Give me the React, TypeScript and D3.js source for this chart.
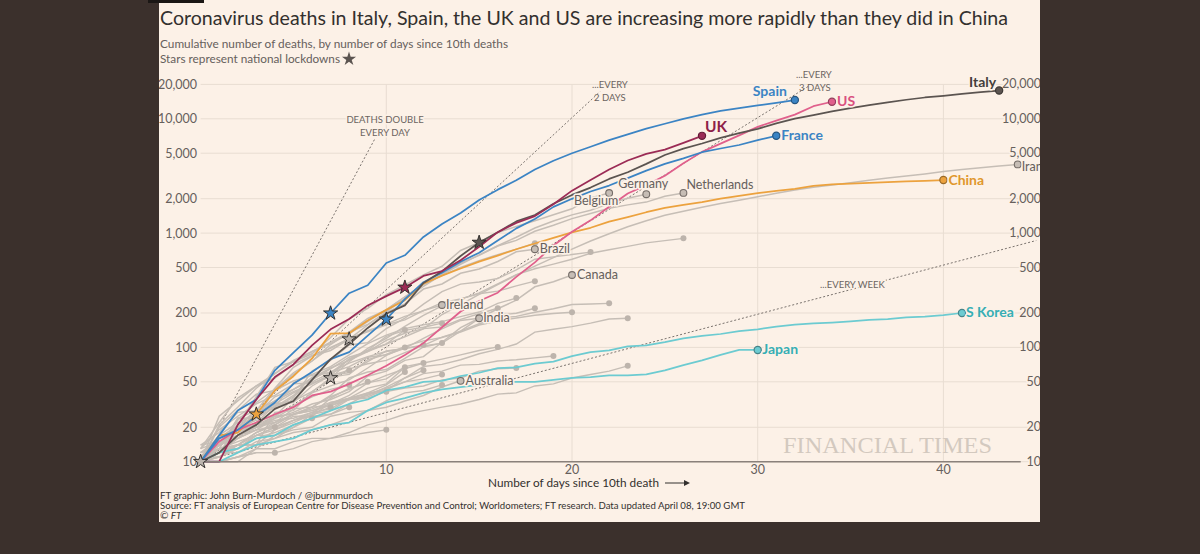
import React from "react";
import * as d3 from "d3";

const BG = "#fcf1e7";
const OUTER = "#3b302c";
const INK = "#33302e";
const MUTED = "#66605c";
const FONT = "Lato, 'Open Sans', sans-serif";

// ---------- axis ticks ----------
const yTicks = [10, 20, 50, 100, 200, 500, 1000, 2000, 5000, 10000, 20000];
const xTicks = [10, 20, 30, 40];

// ---------- highlighted countries: cumulative deaths, day 0 = 10th death ----------
const italy = [10, 12, 17, 21, 29, 34, 52, 79, 107, 148, 197, 233, 366, 463, 631, 827, 1016, 1266, 1441, 1809, 2158, 2503, 2978, 3405, 4032, 4825, 5476, 6077, 6820, 7503, 8165, 9134, 10023, 10779, 11591, 12428, 13155, 13915, 14681, 15362, 15887, 16523, 17127, 17669];
const spain = [10, 17, 28, 35, 63, 90, 128, 199, 298, 350, 548, 640, 925, 1200, 1500, 1950, 2400, 2900, 3600, 4300, 5000, 5700, 6500, 7300, 8200, 9050, 10000, 10900, 11750, 12400, 13100, 13800, 14600];
const france = [10, 16, 19, 25, 33, 48, 61, 79, 91, 127, 176, 264, 372, 450, 562, 674, 860, 1100, 1331, 1696, 1995, 2314, 2606, 3024, 3523, 4032, 4503, 5100, 5500, 5900, 6500, 7100];
const uk = [10, 10, 21, 35, 55, 71, 104, 144, 177, 233, 281, 335, 422, 465, 578, 759, 1019, 1228, 1408, 1789, 2352, 2921, 3605, 4313, 4934, 5373, 6159, 7097];
const us = [10, 15, 19, 22, 26, 30, 38, 41, 48, 57, 69, 86, 109, 150, 206, 255, 301, 414, 555, 780, 1027, 1293, 1698, 2221, 2629, 3170, 4081, 5137, 6070, 7159, 8496, 9647, 10871, 12895, 14100];
const china = [10, 17, 18, 26, 42, 56, 80, 132, 133, 172, 213, 259, 361, 425, 490, 563, 636, 722, 811, 908, 1016, 1113, 1259, 1380, 1523, 1665, 1770, 1868, 2004, 2118, 2236, 2345, 2442, 2592, 2663, 2715, 2744, 2788, 2835, 2870, 2912];
const southKorea = [10, 12, 13, 16, 17, 21, 24, 28, 32, 35, 42, 45, 50, 51, 56, 60, 66, 67, 72, 75, 84, 91, 94, 102, 104, 111, 120, 126, 131, 139, 144, 152, 158, 162, 165, 169, 174, 177, 183, 186, 192, 200];
const japan = [10, 10, 12, 14, 15, 16, 19, 21, 22, 28, 33, 36, 40, 43, 45, 47, 50, 50, 50, 52, 54, 55, 57, 57, 58, 63, 70, 77, 86, 95, 95];

// ---------- labelled grey countries ----------
const iran = [10, 16, 19, 26, 34, 43, 54, 66, 77, 92, 107, 124, 145, 194, 237, 291, 354, 429, 514, 611, 724, 853, 988, 1135, 1284, 1433, 1556, 1685, 1812, 1934, 2077, 2234, 2378, 2517, 2640, 2757, 2898, 3036, 3160, 3294, 3452, 3603, 3739, 3872, 3993];
const germany = [10, 13, 24, 28, 44, 67, 84, 94, 118, 157, 206, 267, 342, 433, 533, 645, 775, 920, 1107, 1275, 1444, 1584, 1810, 2016, 2190];
const netherlands = [10, 12, 20, 24, 43, 58, 76, 106, 136, 179, 213, 276, 356, 434, 546, 639, 771, 864, 1039, 1173, 1339, 1487, 1651, 1766, 1867, 2101, 2248];
const belgium = [10, 14, 21, 37, 67, 75, 88, 122, 178, 220, 289, 353, 431, 513, 705, 828, 1011, 1143, 1283, 1447, 1632, 2035, 2240];
const brazil = [10, 25, 34, 46, 59, 77, 92, 111, 136, 159, 201, 240, 324, 359, 445, 486, 564, 686, 723];
const canada = [10, 12, 19, 21, 25, 26, 30, 38, 54, 61, 64, 80, 101, 109, 139, 179, 218, 259, 339, 375, 430];
const ireland = [13, 22, 36, 46, 54, 71, 85, 98, 120, 137, 158, 174, 210, 235];
const india = [10, 12, 16, 19, 24, 27, 32, 35, 41, 56, 62, 77, 83, 111, 149, 180];
const australia = [10, 13, 14, 14, 16, 18, 19, 21, 24, 28, 30, 34, 38, 45, 51];

// ---------- other countries (unlabelled) ----------
const switzerland = [11, 13, 14, 14, 27, 28, 41, 54, 75, 98, 120, 153, 191, 231, 264, 300, 359, 433, 488, 536, 591, 666, 715, 765, 821, 860, 900];
const sweden = [10, 16, 20, 23, 25, 36, 62, 77, 105, 110, 146, 180, 239, 308, 358, 373, 401, 477, 591, 620, 650, 682];
const turkey = [10, 21, 30, 44, 59, 75, 92, 108, 131, 168, 214, 277, 356, 425, 501, 574, 649, 725, 815];
const portugal = [12, 14, 23, 33, 43, 60, 76, 100, 119, 140, 160, 187, 209, 246, 266, 295, 311, 345, 380];
const austria = [10, 16, 21, 28, 30, 49, 58, 68, 86, 108, 128, 146, 158, 168, 186, 204, 243, 270];
const denmark = [10, 13, 24, 24, 32, 34, 41, 52, 65, 72, 77, 90, 104, 123, 139, 161, 179, 187, 203, 218, 237, 240, 243];
const indonesia = [13, 19, 25, 32, 38, 48, 49, 55, 58, 78, 87, 102, 114, 122, 136, 157, 170, 181, 191, 198, 203];
const ecuador = [14, 18, 27, 28, 34, 41, 48, 58, 60, 75, 93, 98, 120, 145, 172, 180, 191, 199, 220];
const romania = [11, 17, 22, 26, 37, 43, 52, 65, 82, 92, 115, 133, 146, 151, 176, 197, 220];
const philippines = [12, 14, 17, 19, 20, 25, 25, 33, 35, 38, 45, 54, 68, 71, 78, 88, 96, 107, 136, 144, 152, 163, 177, 180];
const mexico = [12, 16, 20, 28, 29, 37, 50, 60, 79, 94, 125, 141, 150, 163];
const israel = [10, 12, 12, 15, 16, 20, 26, 36, 44, 49, 57, 65, 73, 79, 86, 94, 101];
const norway = [10, 12, 14, 14, 19, 23, 25, 26, 32, 39, 44, 50, 59, 62, 70, 71, 76, 78, 81, 84];
const dominicanRep = [10, 20, 28, 39, 42, 51, 57, 60, 68, 82, 86, 98, 103, 109];
const peru = [11, 16, 18, 24, 30, 38, 55, 61, 73, 83, 92, 98, 105];
const poland = [10, 14, 16, 22, 31, 33, 46, 57, 79, 94, 107, 142];
const egypt = [10, 14, 19, 20, 24, 30, 40, 46, 52, 66, 85, 100];
const greece = [13, 15, 17, 20, 22, 26, 28, 32, 38, 49, 53, 68, 73];
const iraq = [10, 11, 13, 17, 20, 23, 27, 29, 36, 40, 42, 54, 63];
const argentina = [10, 12, 17, 20, 23, 24, 27, 32, 36, 44, 48, 67];
const pakistan = [11, 11, 14, 18, 21, 26, 28, 31, 35, 40, 47, 61];
const luxembourg = [11, 15, 18, 21, 22, 29, 30, 31, 35, 36, 41, 44, 46, 52, 54, 62, 65, 66];
const malaysia = [14, 15, 16, 19, 20, 23, 26, 28, 35, 37, 43, 50, 53, 58];
const hungary = [10, 10, 10, 13, 13, 15, 16, 16, 18, 21, 23, 26, 28, 30, 32, 35, 39, 40, 46, 48, 54, 58, 62, 69];
const finland = [11, 13, 13, 17, 17, 19, 20, 25, 27, 28, 34, 40, 42, 47];
const morocco = [10, 11, 14, 18, 21, 26, 29, 33, 36, 39, 41];
const chile = [11, 15, 20, 26, 32, 40, 48, 57, 63];
const serbia = [10, 12, 14, 18, 22, 26, 30, 37, 43, 50];
const ukraine = [12, 14, 17, 20, 25, 31, 37, 43, 47];
const colombia = [10, 12, 14, 17, 19, 22, 26, 30];
const czechia = [10, 10, 11, 13, 17, 20, 24, 26, 30];
const bosnia = [10, 11, 13, 16, 18, 21, 24];
const slovenia = [11, 13, 15, 17, 20];
const estonia = [10, 10, 11, 12, 12, 13, 15, 16, 17, 18, 19];
const albania = [10, 10, 11, 12, 12];

const highlighted = [
  { name: "Japan", values: japan },
  { name: "S Korea", values: southKorea },
  { name: "China", values: china },
  { name: "US", values: us },
  { name: "France", values: france },
  { name: "Spain", values: spain },
  { name: "Italy", values: italy },
  { name: "UK", values: uk },
];

const labelledGrey = [
  { name: "Iran", values: iran },
  { name: "Germany", values: germany },
  { name: "Netherlands", values: netherlands },
  { name: "Belgium", values: belgium },
  { name: "Brazil", values: brazil },
  { name: "Canada", values: canada },
  { name: "Ireland", values: ireland },
  { name: "India", values: india },
  { name: "Australia", values: australia },
];

const otherGrey = [
  switzerland, sweden, turkey, portugal, austria, denmark, indonesia, ecuador,
  romania, philippines, mexico, israel, norway, dominicanRep, peru, poland, egypt,
  greece, iraq, argentina, pakistan, luxembourg, malaysia, hungary, finland,
  morocco, chile, serbia, ukraine, colombia, czechia, bosnia, slovenia, estonia, albania,
];

// lockdown stars: country series and day index
const lockdowns = [
  { series: india, day: 0, kind: "grey" },
  { series: china, day: 3, kind: "China" },
  { series: switzerland, day: 7, kind: "grey" },
  { series: spain, day: 7, kind: "Spain" },
  { series: germany, day: 8, kind: "grey" },
  { series: france, day: 10, kind: "France" },
  { series: uk, day: 11, kind: "UK" },
  { series: italy, day: 15, kind: "Italy" },
];

// doubling-time guide lines: days to double
const guides = [
  { period: 1, endDay: 9.4 },
  { period: 2, endDay: 21.5 },
  { period: 3, endDay: 32.8 },
  { period: 7, endDay: 45 },
];

// ---------- styles ----------
const lineColor: Record<string, string> = {
  Italy: "#5b5450", Spain: "#3b84c4", France: "#3b84c4", UK: "#9b2b55",
  US: "#e0608c", China: "#eca23e", "S Korea": "#6ccbd1", Japan: "#6ccbd1", grey: "#c6beb6",
};
const labelColor: Record<string, string> = {
  Italy: "#443f3c", Spain: "#3b84c4", France: "#3b84c4", UK: "#8e2148",
  US: "#d9507f", China: "#e0972c", "S Korea": "#36aeb4", Japan: "#36aeb4",
};
const hlLabel: Record<string, { dx: number; dy: number; anchor: string; size: number }> = {
  Italy: { dx: -3, dy: -3.5, anchor: "end", size: 14 },
  Spain: { dx: -8, dy: -4, anchor: "end", size: 14 },
  US: { dx: 5, dy: 4.5, anchor: "start", size: 14 },
  UK: { dx: 3, dy: -4, anchor: "start", size: 15.5 },
  France: { dx: 5, dy: 4.5, anchor: "start", size: 14 },
  China: { dx: 5, dy: 4.5, anchor: "start", size: 14 },
  "S Korea": { dx: 4, dy: 4.5, anchor: "start", size: 14 },
  Japan: { dx: 4.5, dy: 4, anchor: "start", size: 14 },
};
const greyLabel: Record<string, { dx: number; dy: number; anchor: string }> = {
  Iran: { dx: 4, dy: 6.5, anchor: "start" },
  Germany: { dx: -3, dy: -6, anchor: "middle" },
  Netherlands: { dx: 3, dy: -4, anchor: "start" },
  Belgium: { dx: -13, dy: 12, anchor: "middle" },
  Brazil: { dx: 5, dy: 4, anchor: "start" },
  Canada: { dx: 5, dy: 4, anchor: "start" },
  Ireland: { dx: 4, dy: 4, anchor: "start" },
  India: { dx: 4, dy: 4, anchor: "start" },
  Australia: { dx: 5, dy: 4.5, anchor: "start" },
};

export default function App() {
  const x = d3.scaleLinear().domain([0, 44]).range([200.6, 1017.7]);
  const y = d3.scaleLog().domain([10, 20000]).range([461.7, 84.4]);
  const line = d3
    .line<number>()
    .x((_, i) => x(i))
    .y((v) => y(v));
  const fmt = d3.format(",");
  const starPath = d3.symbol(d3.symbolStar, 62)() as string;
  const halo = { paintOrder: "stroke" as const, stroke: BG, strokeWidth: 3, strokeLinejoin: "round" as const };

  return (
    <svg width={1200} height={554} style={{ position: "absolute", left: 0, top: 0, fontFamily: FONT }}>
      <defs>
        <clipPath id="panel">
          <rect x={159} y={0} width={881} height={522} />
        </clipPath>
      </defs>
      <rect x={0} y={0} width={1200} height={554} fill={OUTER} />
      <rect x={159} y={0} width={881} height={522} fill={BG} />
      <rect x={148} y={0} width={56} height={3} fill="#1b1715" />

      <g clipPath="url(#panel)">
        {/* titles */}
        <text x={160} y={24.5} fontSize={18.5} fill={INK} textLength={848} lengthAdjust="spacingAndGlyphs">
          Coronavirus deaths in Italy, Spain, the UK and US are increasing more rapidly than they did in China
        </text>
        <text x={160} y={48} fontSize={12} fill={MUTED} textLength={348} lengthAdjust="spacingAndGlyphs">
          Cumulative number of deaths, by number of days since 10th deaths
        </text>
        <text x={160} y={63} fontSize={12} fill={MUTED} textLength={180} lengthAdjust="spacingAndGlyphs">
          Stars represent national lockdowns
        </text>
        <path d={starPath} transform="translate(349,59)" fill="#5b5450" />

        {/* grid */}
        {yTicks.map((t) => (
          <line key={"h" + t} x1={x(0)} x2={1040} y1={y(t)} y2={y(t)} stroke="#e8ddd2" strokeWidth={1} />
        ))}
        {xTicks.map((t) => (
          <line key={"v" + t} x1={x(t)} x2={x(t)} y1={y(20000)} y2={y(10)} stroke="#e8ddd2" strokeWidth={1} />
        ))}

        {/* watermark */}
        <text x={783} y={453} fontSize={24} fill="#d3c9bf" fontFamily="'Liberation Serif', 'DejaVu Serif', serif" textLength={209} lengthAdjust="spacingAndGlyphs">
          FINANCIAL TIMES
        </text>

        {/* doubling guides */}
        {guides.map((g) => (
          <line
            key={"g" + g.period}
            x1={x(0)}
            y1={y(10)}
            x2={x(g.endDay)}
            y2={y(10 * Math.pow(2, g.endDay / g.period))}
            stroke="#6b6460"
            strokeWidth={0.9}
            strokeDasharray="2,2"
          />
        ))}

        {/* grey lines */}
        {otherGrey.map((s, i) => (
          <path key={"o" + i} d={line(s) as string} fill="none" stroke={lineColor.grey} strokeWidth={1.4} />
        ))}
        {labelledGrey.map((s) => (
          <path key={"l" + s.name} d={line(s.values) as string} fill="none" stroke={lineColor.grey} strokeWidth={1.5} />
        ))}
        {otherGrey.map((s, i) => (
          <circle key={"od" + i} cx={x(s.length - 1)} cy={y(s[s.length - 1])} r={3} fill="#bdb4ac" />
        ))}

        {/* highlighted lines */}
        {highlighted.map((s) => (
          <path key={"hl" + s.name} d={line(s.values) as string} fill="none" stroke={lineColor[s.name]} strokeWidth={1.75} strokeLinejoin="round" />
        ))}

        {/* x axis */}
        <line x1={x(0)} x2={x(44) + 3} y1={y(10)} y2={y(10)} stroke="#8a817b" strokeWidth={1.5} />
        {xTicks.map((t) => (
          <text key={"xt" + t} x={x(t)} y={473.5} fontSize={12.5} fill={MUTED} textAnchor="middle">
            {t}
          </text>
        ))}

        {/* y tick labels */}
        {yTicks.map((t) => (
          <text key={"yl" + t} x={197} y={y(t) + 4.5} fontSize={12.5} fill={MUTED} textAnchor="end">
            {fmt(t)}
          </text>
        ))}
        {yTicks.map((t) => (
          <text key={"yr" + t} x={1041} y={y(t) + 4} fontSize={12.5} fill={MUTED} textAnchor="end" style={halo}>
            {fmt(t)}
          </text>
        ))}

        {/* guide labels */}
        <g fontSize={9.5} fill="#6b6460">
          <text x={385} y={123} textAnchor="middle" style={halo}>DEATHS DOUBLE</text>
          <text x={385} y={136} textAnchor="middle" style={halo}>EVERY DAY</text>
          <text x={592} y={88}>...EVERY</text>
          <text x={594} y={101}>2 DAYS</text>
          <text x={796} y={78}>...EVERY</text>
          <text x={799} y={91}>3 DAYS</text>
          <text x={820} y={288} style={halo}>...EVERY WEEK</text>
        </g>

        {/* labelled grey dots & labels */}
        {labelledGrey.map((s) => {
          const d = s.values.length - 1;
          const cx = x(d);
          const cy = y(s.values[d]);
          const l = greyLabel[s.name];
          return (
            <g key={"lg" + s.name}>
              <circle cx={cx} cy={cy} r={3.4} fill="#c6bdb5" stroke="#756d68" strokeWidth={1.1} />
              <text x={cx + l.dx} y={cy + l.dy} fontSize={12.5} fill={MUTED} textAnchor={l.anchor} style={halo}>
                {s.name}
              </text>
            </g>
          );
        })}

        {/* highlighted end dots & labels */}
        {highlighted.map((s) => {
          const d = s.values.length - 1;
          const cx = x(d);
          const cy = y(s.values[d]);
          const l = hlLabel[s.name];
          const c = lineColor[s.name];
          return (
            <g key={"he" + s.name}>
              <circle cx={cx} cy={cy} r={3.6} fill={c} stroke={d3.color(c)!.darker(1.2).formatHex()} strokeWidth={1.2} />
              <text x={cx + l.dx} y={cy + l.dy} fontSize={l.size} fontWeight={700} fill={labelColor[s.name]} textAnchor={l.anchor} style={halo}>
                {s.name}
              </text>
            </g>
          );
        })}

        {/* lockdown stars */}
        {lockdowns.map((s, i) => (
          <path
            key={"st" + i}
            d={starPath}
            transform={`translate(${x(s.day)},${y(s.series[s.day])})`}
            fill={s.kind === "grey" ? "#bdb5ae" : lineColor[s.kind]}
            stroke={INK}
            strokeWidth={1}
          />
        ))}

        {/* axis title */}
        <text x={488} y={487} fontSize={12} fill={INK} textLength={171} lengthAdjust="spacingAndGlyphs">
          Number of days since 10th death
        </text>
        <line x1={665} x2={686} y1={483} y2={483} stroke={INK} strokeWidth={1} />
        <path d="M684,480 L690,483 L684,486 Z" fill={INK} />

        {/* footer */}
        <text x={160} y={498.5} fontSize={10} fill={INK} textLength={213} lengthAdjust="spacingAndGlyphs">
          FT graphic: John Burn-Murdoch / @jburnmurdoch
        </text>
        <text x={160} y={508.5} fontSize={10} fill={INK} textLength={585} lengthAdjust="spacingAndGlyphs">
          Source: FT analysis of European Centre for Disease Prevention and Control; Worldometers; FT research. Data updated April 08, 19:00 GMT
        </text>
        <text x={160} y={518.5} fontSize={10} fill={INK} fontStyle="italic">
          © FT
        </text>
      </g>
    </svg>
  );
}
